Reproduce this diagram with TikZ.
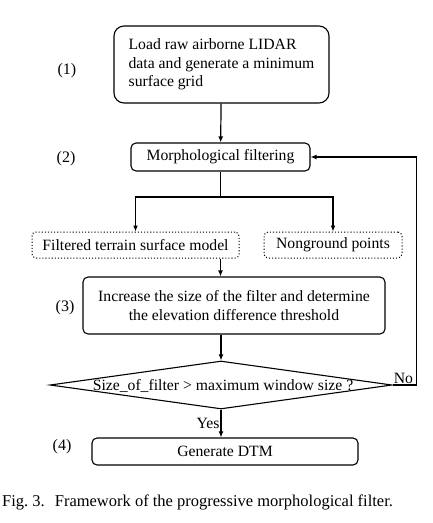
\documentclass[tikz,border=0pt]{standalone}
\usepackage{fontspec}
\setmainfont{Liberation Serif}
\usetikzlibrary{arrows.meta,shapes.geometric}

\begin{document}
\begin{tikzpicture}[
  x=1pt, y=-1pt,
  box/.style={draw=black, line width=1.1pt, rounded corners=5pt, fill=white,
    align=center, inner sep=0pt, font=\fontsize{15.7}{18.5}\selectfont},
  bigbox/.style={box, rounded corners=10pt, align=left,
    minimum width=215pt, minimum height=77pt},
  dotbox/.style={box, dotted, line width=1pt, rounded corners=4pt},
  decision/.style={diamond, draw=black, line width=1.1pt, inner sep=0pt,
    minimum width=342pt, minimum height=48pt},
  arr/.style={-{Latex[length=6pt,width=5pt]}, draw=black, line width=1.2pt},
  line/.style={draw=black, line width=1.2pt},
  steplab/.style={font=\fontsize{16}{19}\selectfont, inner sep=0pt},
  lab/.style={font=\fontsize{15.7}{18.5}\selectfont, inner sep=1pt}
]
\useasboundingbox (0,0) rectangle (432,523);
\node[bigbox] (load) at (221.5,64.5) {Load raw airborne LIDAR\\data and generate a minimum\\surface grid};
\node[box, minimum width=179pt, minimum height=28pt] (filt) at (220.5,157) {Morphological filtering};
\node[dotbox, minimum width=207pt, minimum height=26pt] (terrain) at (135.5,245) {Filtered terrain surface model};
\node[dotbox, minimum width=138pt, minimum height=26pt] (nonground) at (333,245) {Nonground points};
\node[box, minimum width=302pt, minimum height=57pt] (incr) at (234,305.5) {Increase the size of the filter and determine\\the elevation difference threshold};
\node[decision] (test) at (221,385) {};
\node[lab] (testtxt) at (223,386) {Size\_of\_filter > maximum window size ?};
\node[box, minimum width=266pt, minimum height=27pt] (gen) at (225,451.5) {Generate DTM};
% step numbers
\node[steplab] (s1) at (67,71) {(1)};
\node[steplab] (s2) at (66,159) {(2)};
\node[steplab] (s3) at (65,308) {(3)};
\node[steplab] (s4) at (62,447) {(4)};
% connectors
\coordinate (split) at (220.5,197);
\draw[arr] (load) -- (filt);
\draw[line] (filt.south) -- (split);
\draw[arr] (split) -| (terrain.north);
\draw[arr] (split) -| (nonground.north);
\draw[arr] (terrain.south -| filt.south) -- (incr.north -| filt.south);
\draw[arr] (incr.south -| test.north) -- (test.north);
\draw[arr] (test.south) -- node[left, lab, pos=0.5] {Yes} (gen.north -| test.south);
\draw[arr] (test.east) -- ++(24,0) node[pos=0.45, above, lab] {No} |- (filt.east);
% caption
\node[anchor=base west, font=\fontsize{16.5}{20}\selectfont, inner sep=0pt] (caption) at (2,506)
  {Fig.~3.\hspace{10pt}Framework of the progressive morphological filter.};
\end{tikzpicture}
\end{document}
